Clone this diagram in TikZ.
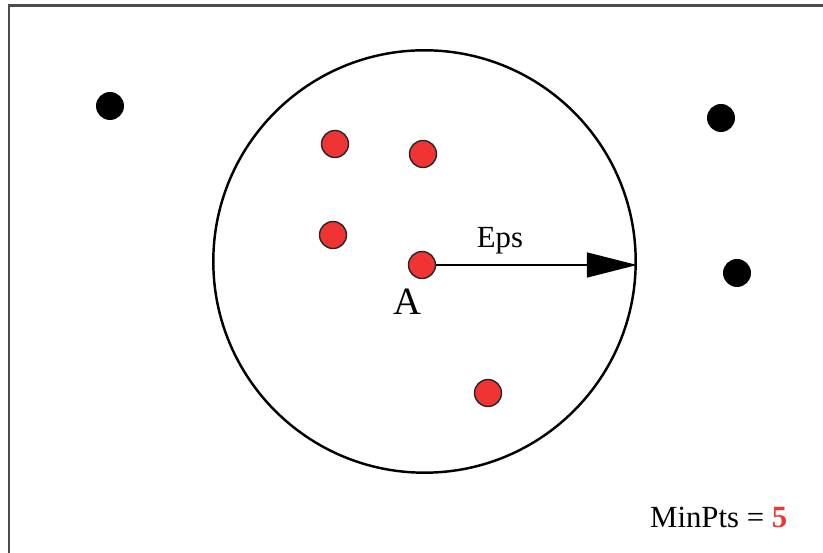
\documentclass[tikz,border=0pt]{standalone}
\usepackage{fontspec}
\setmainfont{Liberation Serif}
\usetikzlibrary{arrows.meta}
\definecolor{ptred}{RGB}{240, 52, 52}

\begin{document}
\begin{tikzpicture}[x=0.02cm, y=-0.02cm,
    core/.style={circle, draw=black!85, line width=0.8pt, fill=ptred, minimum size=0.54cm, inner sep=0pt},
    noise/.style={circle, fill=black, minimum size=0.56cm, inner sep=0pt}]
    \useasboundingbox (0,0) rectangle (823,553);
    \draw[black!70, line width=1.7pt] (840,6) -- (9,6) -- (9,570);

    % Eps neighbourhood of A
    \node[circle, draw, line width=1.4pt, minimum size=8.45cm, inner sep=0pt] (eps) at (424.5,261.5) {};

    \node[core] (p1) at (335,144) {};
    \node[core] (p2) at (423,154) {};
    \node[core] (p3) at (333,235) {};
    \node[core] (a)  at (422,265) {};
    \node[core] (p4) at (488,393) {};

    \node[noise] (n1) at (110,106) {};
    \node[noise] (n2) at (721,118) {};
    \node[noise] (n3) at (737,273) {};

    \draw[-{Triangle[length=1cm, width=0.5cm]}, line width=0.8pt] (a) -- (a -| eps.east);

    \node[anchor=base, font=\fontsize{17.5}{20}\selectfont] (epslabel) at (500,248) {Eps};
    \node[anchor=base, font=\fontsize{22}{24}\selectfont] (alabel) at (407,315) {A};
    \node[anchor=base west, font=\fontsize{17.5}{20}\selectfont] (minpts) at (644,528)
        {MinPts = \textcolor{ptred}{\textbf{5}}};
\end{tikzpicture}
\end{document}
